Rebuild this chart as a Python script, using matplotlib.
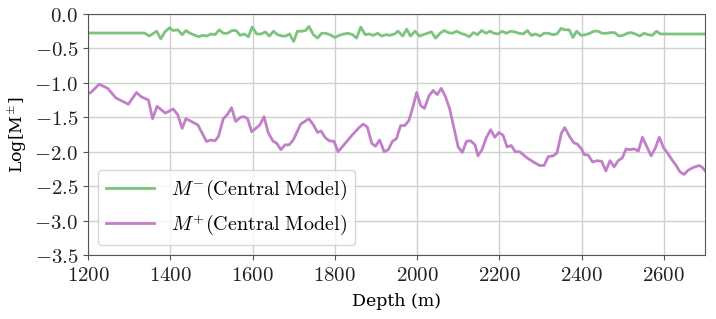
import matplotlib

matplotlib.use("Agg")

import matplotlib.pyplot as plt
from matplotlib.ticker import FuncFormatter

# M- (central model), depth in m / log value
depth_minus = [
    1200, 1337, 1349, 1367, 1377, 1387, 1398, 1407, 1418, 1429, 1438, 1448,
    1469, 1479, 1489, 1499, 1509, 1519, 1529, 1539, 1550, 1560, 1570, 1580,
    1590, 1599, 1610, 1621, 1631, 1641, 1651, 1661, 1672, 1681, 1690, 1700,
    1709, 1720, 1729, 1737, 1748, 1758, 1768, 1778, 1788, 1800, 1811, 1822,
    1833, 1843, 1853, 1863, 1874, 1883, 1894, 1904, 1914, 1925, 1934, 1945,
    1954, 1965, 1975, 1984, 1995, 2006, 2015, 2025, 2035, 2045, 2056, 2066,
    2076, 2086, 2096, 2106, 2117, 2127, 2137, 2147, 2157, 2168, 2177, 2187,
    2197, 2207, 2217, 2228, 2237, 2248, 2258, 2268, 2278, 2288, 2299, 2309,
    2319, 2330, 2340, 2350, 2359, 2370, 2379, 2388, 2399, 2410, 2420, 2430,
    2440, 2450, 2461, 2470, 2480, 2491, 2501, 2511, 2520, 2531, 2541, 2552,
    2562, 2572, 2582, 2592, 2700,
]
log_minus = [
    -0.276, -0.276, -0.32, -0.25, -0.36, -0.26, -0.20, -0.24, -0.23, -0.30,
    -0.24, -0.28, -0.33, -0.31, -0.32, -0.29, -0.30, -0.23, -0.28, -0.28,
    -0.24, -0.24, -0.31, -0.29, -0.33, -0.19, -0.29, -0.29, -0.26, -0.32,
    -0.25, -0.30, -0.32, -0.32, -0.29, -0.40, -0.25, -0.25, -0.24, -0.18,
    -0.30, -0.35, -0.28, -0.28, -0.30, -0.34, -0.31, -0.29, -0.28, -0.30,
    -0.35, -0.19, -0.30, -0.29, -0.31, -0.28, -0.32, -0.30, -0.31, -0.29,
    -0.25, -0.32, -0.22, -0.32, -0.25, -0.32, -0.30, -0.28, -0.26, -0.35,
    -0.28, -0.24, -0.27, -0.28, -0.25, -0.28, -0.30, -0.33, -0.27, -0.30,
    -0.24, -0.28, -0.25, -0.28, -0.29, -0.25, -0.28, -0.25, -0.26, -0.28,
    -0.29, -0.24, -0.31, -0.29, -0.32, -0.28, -0.28, -0.30, -0.29, -0.21,
    -0.23, -0.23, -0.34, -0.25, -0.31, -0.30, -0.28, -0.25, -0.25, -0.28,
    -0.28, -0.27, -0.27, -0.32, -0.31, -0.28, -0.27, -0.29, -0.32, -0.28,
    -0.30, -0.31, -0.25, -0.29, -0.29,
]

# M+ (central model)
depth_plus = [
    1200, 1207, 1227, 1248, 1268, 1298, 1318, 1329, 1347, 1357, 1368, 1388,
    1407, 1418, 1429, 1438, 1467, 1488, 1499, 1509, 1517, 1529, 1539, 1549,
    1559, 1571, 1579, 1588, 1598, 1618, 1628, 1638, 1649, 1659, 1669, 1679,
    1689, 1699, 1717, 1737, 1748, 1758, 1767, 1776, 1786, 1798, 1808, 1818,
    1839, 1859, 1869, 1879, 1890, 1899, 1909, 1920, 1930, 1940, 1950, 1960,
    1970, 1980, 1990, 1999, 2009, 2018, 2029, 2039, 2049, 2059, 2069, 2079,
    2090, 2100, 2110, 2120, 2130, 2141, 2148, 2158, 2168, 2179, 2189, 2199,
    2209, 2219, 2229, 2239, 2249, 2270, 2286, 2298, 2309, 2319, 2331, 2340,
    2351, 2359, 2371, 2381, 2390, 2401, 2406, 2416, 2427, 2438, 2449, 2459,
    2469, 2479, 2489, 2499, 2508, 2518, 2528, 2538, 2548, 2558, 2569, 2579,
    2589, 2599, 2609, 2619, 2630, 2639, 2649, 2659, 2671, 2686, 2694, 2702,
]
log_plus = [
    -1.15, -1.14, -1.02, -1.08, -1.22, -1.31, -1.14, -1.20, -1.25, -1.52,
    -1.34, -1.44, -1.38, -1.46, -1.66, -1.52, -1.61, -1.85, -1.83, -1.84,
    -1.78, -1.52, -1.46, -1.36, -1.56, -1.50, -1.49, -1.52, -1.71, -1.61,
    -1.49, -1.72, -1.84, -1.88, -1.97, -1.90, -1.90, -1.83, -1.60, -1.52,
    -1.61, -1.72, -1.70, -1.79, -1.84, -1.85, -2.00, -1.93, -1.78, -1.65,
    -1.60, -1.64, -1.88, -1.92, -1.83, -2.00, -1.97, -1.85, -1.81, -1.62,
    -1.62, -1.55, -1.35, -1.14, -1.33, -1.37, -1.19, -1.11, -1.17, -1.08,
    -1.20, -1.37, -1.66, -1.93, -2.01, -1.85, -1.84, -1.90, -2.06, -1.97,
    -1.80, -1.68, -1.79, -1.72, -1.76, -1.93, -1.91, -2.00, -2.00, -2.10,
    -2.16, -2.20, -2.20, -2.07, -2.06, -2.02, -1.73, -1.65, -1.78, -1.87,
    -1.89, -1.97, -2.04, -2.05, -2.15, -2.13, -2.14, -2.28, -2.13, -2.22,
    -2.13, -2.09, -1.96, -1.97, -1.96, -1.99, -1.79, -1.92, -2.06, -1.95,
    -1.79, -1.94, -2.02, -2.11, -2.20, -2.29, -2.33, -2.27, -2.23, -2.20,
    -2.23, -2.29,
]

x_ticks = [1200, 1400, 1600, 1800, 2000, 2200, 2400, 2600]
y_ticks = [0.0, -0.5, -1.0, -1.5, -2.0, -2.5, -3.0, -3.5]

plt.rcParams["mathtext.fontset"] = "cm"

fig = plt.figure(figsize=(7.16, 3.19), dpi=100)
ax = fig.add_axes([0.1229, 0.2006, 0.8617, 0.7555])

ax.plot(depth_minus, log_minus, color="#7cc47c", linewidth=2,
        label=r"$M^{-}\mathrm{(Central\ Model)}$")
ax.plot(depth_plus, log_plus, color="#c27fc9", linewidth=2,
        label=r"$M^{+}\mathrm{(Central\ Model)}$")

ax.set_xlim(1200, 2700)
ax.set_ylim(-3.5, 0.0)
ax.set_xticks(x_ticks)
ax.set_yticks(y_ticks)
ax.xaxis.set_major_formatter(FuncFormatter(lambda v, _: f"${v:.0f}$"))
ax.yaxis.set_major_formatter(FuncFormatter(lambda v, _: f"${v:.1f}$"))
ax.tick_params(labelsize=15, color="#555555", labelcolor="#222222", length=3.5)
for spine in ax.spines.values():
    spine.set_color("#555555")

ax.grid(True, color="#d0d0d0", linewidth=1)
ax.set_axisbelow(True)

ax.set_xlabel("Depth (m)", family="DejaVu Serif", fontsize=12.5, labelpad=6)
ax.set_ylabel(r"Log[M$^{\pm}$]", family="DejaVu Serif", fontsize=12.5, labelpad=4)

ax.legend(loc="lower left", fontsize=14.5, handlelength=2.4, framealpha=0.8)

fig.savefig("out.png", dpi=100)
